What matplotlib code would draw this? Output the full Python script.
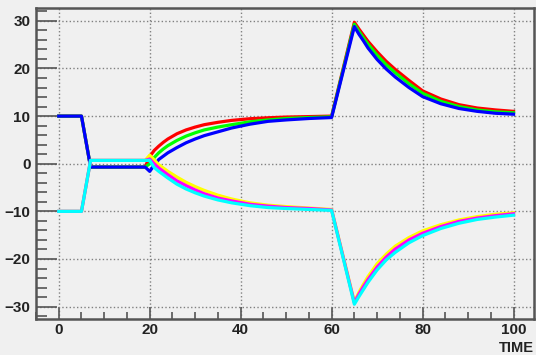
import matplotlib
matplotlib.use("Agg")
import matplotlib.pyplot as plt
from matplotlib.ticker import MultipleLocator

# time points shared by all six series
time = [0, 5, 7, 19,
        20, 21, 22, 23, 24, 26, 28, 30, 32, 35, 38, 42, 46, 50, 55, 60,
        65, 66, 67, 68, 70, 72, 74, 77, 80, 84, 88, 92, 96, 100]

red = [10, 10, -0.7, -0.7,
       1.5, 2.8, 3.7, 4.5, 5.2, 6.3, 7.1, 7.7, 8.2, 8.7, 9.1, 9.45, 9.65, 9.8, 9.9, 10.0,
       29.7, 28.3, 27.0, 25.7, 23.5, 21.5, 19.8, 17.5, 15.3, 13.6, 12.4, 11.7, 11.3, 11.0]
green = [10, 10, -0.7, -0.7,
         0.0, 1.3, 2.3, 3.1, 3.8, 4.9, 5.8, 6.5, 7.1, 7.7, 8.2, 8.8, 9.2, 9.5, 9.7, 9.85,
         29.3, 27.8, 26.4, 25.1, 22.8, 20.8, 19.1, 16.8, 14.8, 13.1, 12.0, 11.3, 10.9, 10.7]
blue = [10, 10, -0.7, -0.7,
        -1.6, -0.3, 0.9, 1.6, 2.3, 3.4, 4.4, 5.2, 5.9, 6.7, 7.5, 8.3, 8.9, 9.2, 9.5, 9.7,
        28.8, 27.2, 25.8, 24.3, 21.9, 19.9, 18.2, 16.0, 14.1, 12.6, 11.6, 11.0, 10.6, 10.4]
yellow = [-10, -10, 0.7, 0.7,
          1.8, 0.8, -0.2, -0.9, -1.6, -2.8, -3.9, -4.8, -5.6, -6.6, -7.4, -8.2, -8.7, -9.0, -9.3, -9.6,
          -29.0, -27.0, -25.3, -23.7, -21.0, -19.0, -17.3, -15.5, -14.1, -12.8, -11.8, -11.1, -10.6, -10.3]
magenta = [-10, -10, 0.7, 0.7,
           1.0, 0.0, -0.9, -1.6, -2.3, -3.6, -4.6, -5.5, -6.3, -7.2, -7.8, -8.5, -8.9, -9.2, -9.4, -9.7,
           -29.2, -27.4, -25.8, -24.3, -21.7, -19.6, -17.9, -16.0, -14.6, -13.2, -12.1, -11.4, -10.9, -10.5]
cyan = [-10, -10, 0.7, 0.7,
        0.7, -0.8, -1.6, -2.3, -3.0, -4.3, -5.3, -6.1, -6.8, -7.6, -8.2, -8.8, -9.2, -9.4, -9.6, -9.8,
        -29.5, -27.9, -26.4, -24.9, -22.3, -20.2, -18.6, -16.6, -15.1, -13.6, -12.5, -11.7, -11.2, -10.8]

series = [(red, "#ff0000"), (green, "#00ff00"), (blue, "#0000ff"),
          (yellow, "#ffff00"), (magenta, "#ff00ff"), (cyan, "#00ffff")]

plt.rcParams['font.family'] = ['Liberation Sans', 'DejaVu Sans']

fig = plt.figure(figsize=(5.36, 3.55), dpi=100, facecolor="#f0f0f0")
ax = fig.add_axes([36 / 536, 1 - 319 / 355, (534 - 36) / 536, (319 - 8) / 355])
ax.set_facecolor("#f0f0f0")

for vals, col in series:
    ax.plot(time, vals, color=col, lw=2.3, solid_joinstyle="round")

ax.set_xlim(-5, 104.5)
ax.set_ylim(-32.6, 32.7)

ax.xaxis.set_major_locator(MultipleLocator(20))
ax.xaxis.set_minor_locator(MultipleLocator(5))
ax.yaxis.set_major_locator(MultipleLocator(10))
ax.yaxis.set_minor_locator(MultipleLocator(2))

ax.grid(True, which="major", color="#808080", ls=":", lw=1.0)
ax.tick_params(axis="both", which="both", direction="in", color="#555555",
               top=False, right=False)
ax.tick_params(axis="x", which="major", length=9, width=1.2, pad=3)
ax.tick_params(axis="x", which="minor", length=5, width=1.2)
ax.tick_params(axis="y", which="major", length=15, width=1.2, pad=4)
ax.tick_params(axis="y", which="minor", length=8, width=1.2)

for lab in ax.get_xticklabels() + ax.get_yticklabels():
    lab.set_fontweight("bold")
    lab.set_fontsize(11)
    lab.set_color("#222222")

for sp in ax.spines.values():
    sp.set_color("#555555")
    sp.set_linewidth(1.8)

ax.text(1.0, -0.07, "TIME", transform=ax.transAxes, ha="right", va="top",
        fontsize=10.5, fontweight="bold", color="#222222")

fig.savefig("out.png", dpi=100, facecolor=fig.get_facecolor())
